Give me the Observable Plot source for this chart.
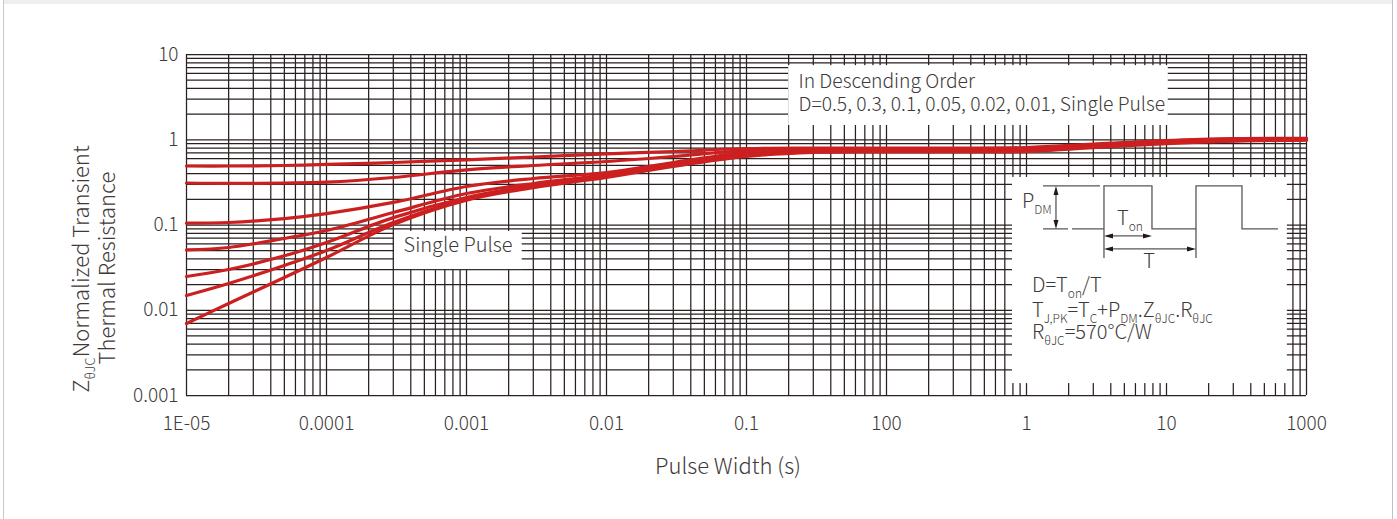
<!DOCTYPE html>
<html><head><meta charset="utf-8">
<script src="https://cdn.jsdelivr.net/npm/d3@7"></script>
<script src="https://cdn.jsdelivr.net/npm/@observablehq/plot@0.6"></script>
<style>
body{margin:0;background:#fff;}
#wrap{position:relative;width:1397px;height:519px;overflow:hidden;background:#fff;font-family:"Noto Sans CJK SC","Noto Sans",sans-serif;}
#strip{position:absolute;left:3px;top:0;width:1390px;height:4px;background:#eeeeee;}
#lb{position:absolute;left:3px;top:0;width:1px;height:519px;background:#c8c8c8;}
#rb{position:absolute;left:1392px;top:0;width:1px;height:519px;background:#c0c0c0;}
#chart{position:absolute;left:0;top:0;}
</style></head><body>
<div id="wrap"><div id="strip"></div><div id="lb"></div><div id="rb"></div><div id="chart"></div></div>
<script>
// ---- data ----
const pulseWidth = [1e-5, 2e-5, 5e-5, 1e-4, 3e-4, 1e-3, 3e-3, 1e-2, 3e-2, 0.1, 0.3, 1, 3, 10, 30, 100, 300, 1000];
const dutyLabels = ["D=0.5", "D=0.3", "D=0.1", "D=0.05", "D=0.02", "D=0.01", "Single Pulse"];
const zD050 = [0.492, 0.492, 0.499, 0.513, 0.541, 0.582, 0.628, 0.684, 0.728, 0.789, 0.80, 0.80, 0.80, 0.811, 0.89, 0.98, 1.03, 1.04];
const zD030 = [0.311, 0.307, 0.311, 0.318, 0.361, 0.444, 0.499, 0.556, 0.636, 0.748, 0.779, 0.779, 0.779, 0.789, 0.866, 0.966, 1.015, 1.03];
const zD010 = [0.105, 0.107, 0.119, 0.136, 0.184, 0.283, 0.351, 0.413, 0.541, 0.709, 0.748, 0.758, 0.758, 0.768, 0.855, 0.954, 1.0, 1.02];
const zD005 = [0.051, 0.0545, 0.0695, 0.0861, 0.140, 0.234, 0.307, 0.391, 0.526, 0.690, 0.738, 0.748, 0.748, 0.758, 0.843, 0.941, 0.988, 1.02];
const zD002 = [0.0249, 0.0301, 0.0435, 0.0624, 0.122, 0.210, 0.291, 0.381, 0.513, 0.672, 0.728, 0.738, 0.738, 0.748, 0.832, 0.928, 0.974, 1.005];
const zD001 = [0.0149, 0.0206, 0.0335, 0.0502, 0.107, 0.202, 0.283, 0.371, 0.499, 0.653, 0.718, 0.728, 0.728, 0.738, 0.82, 0.916, 0.974, 1.005];
const zSingle = [0.0070, 0.0120, 0.0242, 0.0416, 0.101, 0.196, 0.275, 0.361, 0.486, 0.636, 0.709, 0.718, 0.718, 0.728, 0.81, 0.903, 0.962, 0.99];

const xTickValues = [1e-5, 1e-4, 1e-3, 1e-2, 1e-1, 1, 10, 100, 1000];
const xTickLabels = ["1E-05", "0.0001", "0.001", "0.01", "0.1", "100", "1", "10", "1000"];
const yTickValues = [0.001, 0.01, 0.1, 1, 10];
const yTickLabels = ["0.001", "0.01", "0.1", "1", "10"];

const noteLegendTitle = "In Descending Order";
const noteLegendText = "D=0.5, 0.3, 0.1, 0.05, 0.02, 0.01, Single Pulse";
const noteSingle = "Single Pulse";
const rThetaText = "=570°C/W";

// ---- build table ----
const seriesValues = [zD050, zD030, zD010, zD005, zD002, zD001, zSingle];
const rows = dutyLabels.flatMap((lab, k) => pulseWidth.map((t, i) => ({t, z: seriesValues[k][i], D: lab})));

const xDomain = [1e-5, 1e3], yDomain = [0.001, 10];
const xGrid = d3.scaleLog().domain(xDomain).ticks();
const yGrid = d3.scaleLog().domain(yDomain).ticks();

// annotation boxes, in data coordinates
const boxes = [
  {x1: 0.2, x2: 103, y1: 1.47, y2: 7.4},
  {x1: 3.06e-4, x2: 2.5e-3, y1: 0.030, y2: 0.084},
  {x1: 7.94, x2: 730, y1: 0.00138, y2: 0.361}
];

const FONT = '"Noto Sans CJK SC","Noto Sans",sans-serif';
const TXT = "#3e3a39";
const GRID = "#2a2020";
const RED = "#cc2020";

const plot = Plot.plot({
  width: 1397, height: 519,
  marginLeft: 186, marginRight: 91, marginTop: 54, marginBottom: 124,
  x: {type: "log", domain: xDomain},
  y: {type: "log", domain: yDomain},
  style: {fontFamily: FONT, color: TXT, background: "transparent", fontWeight: 300},
  marks: [
    Plot.ruleX(xGrid, {stroke: GRID, strokeWidth: 1.25}),
    Plot.ruleY(yGrid, {stroke: GRID, strokeWidth: 1.25}),
    Plot.rect(boxes, {x1: "x1", x2: "x2", y1: "y1", y2: "y2", fill: "white"}),
    Plot.line(rows, {x: "t", y: "z", z: "D", stroke: RED, strokeWidth: 3.2, curve: "catmull-rom"}),
    Plot.axisX(xTickValues, {tickSize: 0, tickPadding: 21, fontSize: 19, fill: TXT, label: null,
      tickFormat: d => xTickLabels[xTickValues.indexOf(d)]}),
    Plot.axisY(yTickValues, {tickSize: 0, tickPadding: 8, fontSize: 19, fill: TXT, label: null,
      tickFormat: d => yTickLabels[yTickValues.indexOf(d)]}),
    Plot.text([noteLegendTitle], {x: 0.235, y: 4.76, text: d => d, textAnchor: "start", fontSize: 19.3, fill: TXT}),
    Plot.text([noteLegendText], {x: 0.235, y: 2.56, text: d => d, textAnchor: "start", fontSize: 19.3, fill: TXT}),
    Plot.text([noteSingle], {x: 3.55e-4, y: 0.0567, text: d => d, textAnchor: "start", fontSize: 20, fill: TXT})
  ]
});
document.getElementById("chart").appendChild(plot);

const svg = d3.select(plot);
const sx = v => plot.scale("x").apply(v);
const sy = v => plot.scale("y").apply(v);

// axis titles
svg.append("text").attr("x", 728).attr("y", 474).attr("text-anchor", "middle")
  .attr("font-size", 22).attr("font-weight", 300).attr("fill", TXT).attr("font-family", FONT)
  .text("Pulse Width (s)");
const yt1 = svg.append("text").attr("transform", "translate(89,269) rotate(-90)").attr("text-anchor", "middle")
  .attr("font-size", 22).attr("font-weight", 300).attr("fill", TXT).attr("font-family", FONT);
yt1.append("tspan").text("Z");
yt1.append("tspan").attr("font-size", 13).attr("dy", 6).text("θJC");
yt1.append("tspan").attr("dy", -6).text("Normalized Transient");
svg.append("text").attr("transform", "translate(115,268) rotate(-90)").attr("text-anchor", "middle")
  .attr("font-size", 22).attr("font-weight", 300).attr("fill", TXT).attr("font-family", FONT)
  .text("Thermal Resistance");

// pulse diagram inside the third box
const b = boxes[2];
const g = svg.append("g").attr("transform", `translate(${sx(b.x1)},${sy(b.y2)})`)
  .attr("fill", "none").attr("stroke", "#595757").attr("stroke-width", 1.3);
g.append("path").attr("d", "M31,9H88M31,52H56M60,52H92");
g.append("path").attr("d", "M92,52V9H140V52H184V9H230V52H266");
g.append("path").attr("d", "M92,52V81M184,52V81");
g.append("path").attr("d", "M44,12V49M95,59H137M95,72H181");
const arrows = g.append("g").attr("fill", "#231815").attr("stroke", "none");
arrows.append("path").attr("d", "M44,9L41.5,18L46.5,18Z M44,52L41.5,43L46.5,43Z");
arrows.append("path").attr("d", "M92,59L101,56.5L101,61.5Z M140,59L131,56.5L131,61.5Z");
arrows.append("path").attr("d", "M92,72L101,69.5L101,74.5Z M184,72L175,69.5L175,74.5Z");

const tg = svg.append("g").attr("transform", `translate(${sx(b.x1)},${sy(b.y2)})`)
  .attr("fill", TXT).attr("font-family", FONT).attr("font-weight", 300).attr("font-size", 20)
  .attr("text-anchor", "start");
function sub(t, parts, x, y) {
  const el = t.append("text").attr("x", x).attr("y", y).attr("text-anchor", "start");
  let shifted = false;
  for (const [s, isSub] of parts) {
    const sp = el.append("tspan").text(s);
    if (isSub) { sp.attr("font-size", 12); if (!shifted) { sp.attr("dy", 6); shifted = true; } }
    else if (shifted) { sp.attr("dy", -6); shifted = false; }
  }
  return el;
}
sub(tg, [["P", false], ["DM", true]], 10, 31);
sub(tg, [["T", false], ["on", true]], 105, 48);
tg.append("text").attr("x", 137).attr("y", 91).attr("text-anchor", "middle").text("T");
sub(tg, [["D=T", false], ["on", true], ["/T", false]], 20, 115);
sub(tg, [["T", false], ["J,PK", true], ["=T", false], ["C", true], ["+P", false], ["DM", true], [".Z", false], ["θJC", true], [".R", false], ["θJC", true]], 20, 140);
sub(tg, [["R", false], ["θJC", true], [rThetaText, false]], 20, 162);
</script>
</body></html>
